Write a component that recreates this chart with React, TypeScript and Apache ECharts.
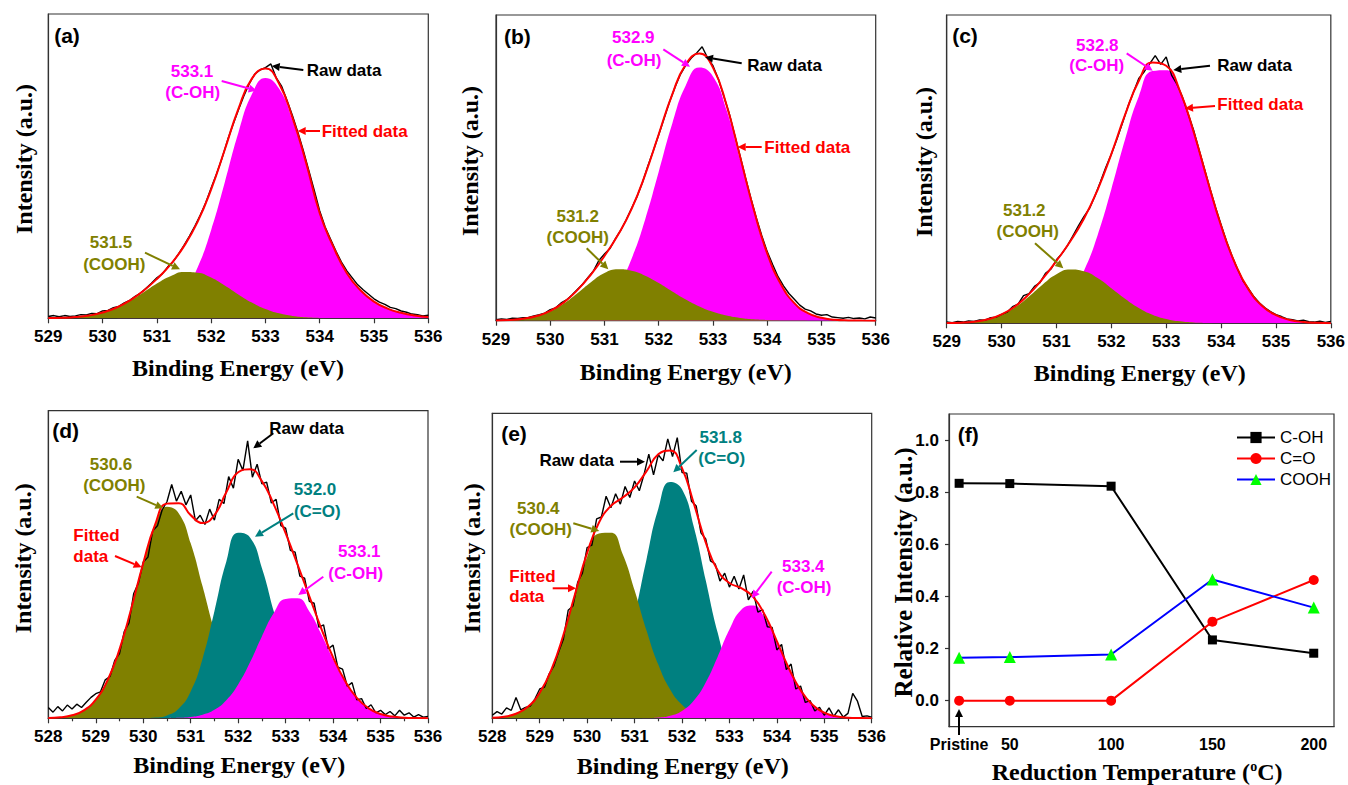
import React, { useEffect, useRef } from "react";
import * as echarts from "echarts";

// ---------- sampling grids ----------
const FIT_STEP = 0.25; // eV step of fitted component curves
const RAW_STEP = 0.1; // eV step of raw spectra

// ---------- panel (a) ----------
const aStart = 529;
const aCOOH = [0.06, 0.16, 0.41, 0.92, 1.87, 3.42, 5.66, 8.45, 11.4, 13.8, 15.2, 15.0, 13.4, 10.8, 7.86, 5.16, 3.06, 1.63, 0.79, 0.34, 0.13, 0.05, 0.02, 0, 0, 0, 0, 0, 0];
const aCOH = [0, 0, 0, 0, 0.01, 0.05, 0.17, 0.55, 1.54, 3.85, 8.51, 16.7, 29.0, 44.6, 60.9, 73.6, 79.0, 75.5, 65.0, 50.7, 34.4, 23.5, 14.8, 9.2, 5.5, 3.2, 1.8, 0.9, 0.4];
const aRaw = [
  0.6, 0.9, 0.5, 0.9, 0.6, 0.8, 1.2, 1.1, 1.6, 1.5,
  2.4, 2.6, 3.5, 3.9, 5.1, 5.9, 7.2, 8.3, 9.9, 11.5,
  13.3, 14.6, 16.9, 18.6, 21.2, 24.0, 27.0, 30.3, 33.9, 38.0,
  42.8, 47.5, 52.6, 58.4, 63.5, 68.4, 73.0, 77.0, 80.2, 81.6,
  82.4, 83.6, 79.0, 76.2, 71.5, 66.5, 61.0, 55.0, 48.5, 42.0,
  35.3, 30.0, 26.0, 22.0, 18.5, 15.6, 13.3, 11.0, 9.4, 7.9,
  6.4, 5.3, 4.6, 3.6, 3.2, 2.4, 2.0, 1.4, 1.2, 0.8,
  1.0,
];

// ---------- panel (b) ----------
const bStart = 529;
const bCOOH = [0.07, 0.23, 0.62, 1.48, 3.07, 5.62, 9.0, 12.6, 15.6, 16.8, 16.3, 14.7, 12.3, 9.55, 6.9, 4.63, 2.89, 1.67, 0.9, 0.45, 0.21, 0.09, 0.04, 0, 0, 0, 0, 0, 0];
const bCOH = [0, 0, 0.01, 0.04, 0.12, 0.37, 1.0, 2.5, 5.58, 11.3, 20.3, 33.1, 48.7, 64.5, 77.0, 82.8, 79.9, 68.9, 52.7, 36.0, 21.8, 11.9, 5.7, 2.45, 0.94, 0.32, 0.1, 0.03, 0.01];
const bRaw = [
  0.3, 0.6, 0.4, 0.8, 0.7, 1.0, 1.1, 1.6, 2.0, 2.5,
  3.6, 4.2, 5.8, 6.8, 8.4, 10.2, 12.0, 14.2, 16.4, 19.8,
  21.8, 23.6, 26.8, 29.6, 33.0, 36.8, 40.6, 45.2, 50.6, 55.6,
  60.8, 66.2, 71.6, 76.4, 80.6, 83.6, 85.9, 87.6, 89.6, 86.0,
  83.4, 79.0, 73.4, 67.8, 60.8, 53.9, 46.8, 40.0, 33.6, 27.8,
  22.6, 18.4, 14.4, 11.4, 8.9, 7.0, 5.1, 3.8, 3.2, 2.2,
  1.8, 2.0, 1.2, 1.0, 0.8, 1.1, 0.7, 0.9, 0.6, 1.2,
  0.9,
];

// ---------- panel (c) ----------
const cStart = 529;
const cCOOH = [0.06, 0.18, 0.52, 1.29, 2.79, 5.28, 8.73, 12.6, 15.9, 17.45, 16.9, 14.7, 11.4, 7.98, 5.0, 2.81, 1.42, 0.64, 0.26, 0.1, 0.03, 0, 0, 0, 0, 0, 0, 0, 0];
const cCOH = [0, 0, 0.01, 0.02, 0.08, 0.26, 0.74, 1.9, 4.37, 9.07, 17.0, 28.6, 43.5, 59.6, 73.6, 81.8, 82.1, 74.7, 61.8, 46.4, 31.6, 19.6, 11.0, 5.63, 2.62, 1.1, 0.42, 0.15, 0.05];
const cRaw = [
  0.4, 0.2, 0.6, 0.4, 0.8, 0.6, 1.1, 1.0, 1.8, 2.0,
  2.9, 3.6, 5.4, 6.2, 9.0, 9.6, 12.0, 13.2, 16.2, 17.6,
  20.6, 22.6, 25.2, 28.4, 31.6, 34.6, 37.2, 41.2, 45.8, 50.6,
  54.8, 59.6, 64.8, 70.2, 74.8, 79.4, 81.6, 84.2, 86.8, 84.0,
  86.4, 80.4, 77.4, 73.2, 68.0, 62.6, 56.2, 50.0, 43.6, 37.6,
  32.0, 26.6, 21.8, 17.6, 13.8, 11.2, 8.6, 6.6, 5.0, 3.8,
  2.8, 2.2, 1.4, 1.2, 0.8, 1.0, 0.5, 0.4, 0.7, 0.3,
  0.6,
];

// ---------- panel (d) ----------
const dStart = 528;
const dCOOH = [0.1, 0.33, 0.99, 2.6, 6.07, 12.4, 22.4, 35.8, 50.4, 62.7, 68.8, 66.6, 56.9, 42.9, 28.5, 16.7, 8.67, 3.97, 1.6, 0.57, 0.18, 0.05, 0.01, 0, 0, 0, 0, 0, 0, 0, 0, 0, 0];
const dCO = [0, 0, 0, 0, 0, 0, 0, 0, 0.03, 0.23, 0.95, 3.2, 8.73, 19.4, 34.8, 50.9, 60.3, 58.8, 48.9, 34.8, 21.2, 11.0, 4.91, 1.87, 0.61, 0.17, 0.04, 0, 0, 0, 0, 0, 0];
const dCOH = [0, 0, 0, 0, 0, 0, 0, 0, 0, 0.01, 0.04, 0.14, 0.42, 1.16, 2.77, 5.89, 11.0, 18.2, 26.6, 34.2, 38.8, 39.0, 34.7, 27.4, 19.2, 12.0, 6.62, 3.24, 1.41, 0.55, 0.19, 0.06, 0.02];
const dRaw = [
  3.5, 2.0, 3.8, 2.4, 4.3, 3.0, 4.6, 3.5, 5.2, 6.8,
  8.0, 8.6, 12.5, 13.6, 18.8, 21.0, 28.2, 31.0, 40.6, 44.0,
  50.8, 52.4, 61.0, 62.6, 67.8, 70.4, 76.0, 70.6, 73.8, 69.4,
  72.6, 64.2, 66.0, 63.0, 68.0, 64.4, 71.2, 69.8, 78.6, 74.8,
  84.2, 80.6, 90.2, 78.4, 82.6, 76.2, 76.8, 70.0, 71.2, 62.6,
  61.8, 54.6, 54.0, 46.2, 45.6, 38.0, 37.4, 29.6, 30.4, 22.6,
  23.8, 16.6, 16.0, 10.4, 11.6, 6.0, 6.4, 3.2, 4.4, 1.8,
  2.6, 1.2, 2.2, 0.8, 2.6, 1.0, 1.8, 0.4, 1.2, 0.4,
  0.6,
];

// ---------- panel (e) ----------
const eStart = 528;
const eCOOH = [0.16, 0.52, 1.5, 3.76, 8.35, 16.1, 27.3, 40.6, 53.0, 60.6, 60.8, 53.8, 42.0, 28.9, 17.6, 9.44, 4.47, 1.87, 0.69, 0.22, 0.07, 0.02, 0, 0, 0, 0, 0, 0, 0, 0, 0, 0, 0];
const eCO = [0, 0, 0, 0, 0, 0.02, 0.1, 0.37, 1.24, 3.58, 8.84, 18.6, 33.7, 52.0, 68.7, 77.5, 75.1, 62.7, 45.3, 28.2, 15.2, 7.04, 2.82, 0.98, 0.29, 0.08, 0.02, 0, 0, 0, 0, 0, 0];
const eCOH = [0, 0, 0, 0, 0, 0, 0, 0, 0, 0, 0, 0, 0.01, 0.07, 0.26, 0.87, 2.43, 5.81, 11.7, 20.1, 29.1, 35.6, 37.0, 32.8, 25.0, 16.4, 9.21, 4.44, 1.84, 0.65, 0.2, 0.06, 0.02];
const eRaw = [
  1.0, 2.2, 1.4, 3.4, 2.6, 6.8, 2.8, 3.6, 4.0, 6.4,
  9.6, 10.2, 14.6, 17.2, 21.8, 26.0, 35.4, 36.8, 44.6, 47.6,
  56.0, 56.8, 65.4, 66.0, 72.8, 69.0, 73.6, 70.2, 76.0, 72.4,
  77.8, 74.6, 80.0, 86.6, 79.8, 86.4, 84.4, 91.6, 85.8, 92.0,
  80.6, 80.4, 71.2, 69.6, 60.8, 58.8, 51.6, 50.6, 45.0, 47.6,
  43.0, 46.6, 42.4, 47.0, 38.8, 41.6, 34.8, 35.6, 30.0, 29.8,
  22.4, 24.2, 16.0, 17.8, 9.6, 10.6, 5.2, 5.8, 2.4, 3.6,
  1.0, 3.4, 0.6, 2.8, 0.4, 1.6, 8.2, 5.6, 0.6, 0.8,
  0.4,
];

// ---------- panel (f) ----------
const fTemps = [25, 50, 100, 150, 200];
const fTickLabels = ["Pristine", "50", "100", "150", "200"];
const fCOH = [0.834, 0.833, 0.823, 0.233, 0.182];
const fCO = [0, 0, 0, 0.303, 0.463];
const fCOOH = [0.165, 0.167, 0.177, 0.465, 0.357];
const fYTicks = [0, 0.2, 0.4, 0.6, 0.8, 1.0];

// ---------- styling ----------
const MAGENTA = "#ff00ff";
const OLIVE = "#808000";
const TEAL = "#008080";
const RED = "#ff0000";
const FRAME = "#333333";
const SANS = '"Liberation Sans", Arial, sans-serif';
const SERIF = '"Liberation Serif", "Times New Roman", serif';

const pairs = (start: number, step: number, vals: number[]) =>
  vals.map((v, i) => [Number((start + i * step).toFixed(3)), v]);
const sumArrays = (...arrs: number[][]) =>
  arrs[0].map((_, i) => arrs.reduce((s, a) => s + a[i], 0));

type Comp = { vals: number[]; color: string };
type Panel = {
  grid: { left: number; top: number; width: number; height: number };
  xmin: number;
  xmax: number;
  start: number;
  comps: Comp[]; // in drawing order (first = bottom)
  raw: number[];
  minor: boolean;
};

const panels: Panel[] = [
  { grid: { left: 48.3, top: 14, width: 380, height: 304.3 }, xmin: 529, xmax: 536, start: aStart, comps: [{ vals: aCOH, color: MAGENTA }, { vals: aCOOH, color: OLIVE }], raw: aRaw, minor: false },
  { grid: { left: 496, top: 15, width: 379.7, height: 305.7 }, xmin: 529, xmax: 536, start: bStart, comps: [{ vals: bCOH, color: MAGENTA }, { vals: bCOOH, color: OLIVE }], raw: bRaw, minor: false },
  { grid: { left: 946.7, top: 15, width: 385, height: 308.3 }, xmin: 529, xmax: 536, start: cStart, comps: [{ vals: cCOH, color: MAGENTA }, { vals: cCOOH, color: OLIVE }], raw: cRaw, minor: false },
  { grid: { left: 48.3, top: 410.7, width: 379.7, height: 307.6 }, xmin: 528, xmax: 536, start: dStart, comps: [{ vals: dCOOH, color: OLIVE }, { vals: dCO, color: TEAL }, { vals: dCOH, color: MAGENTA }], raw: dRaw, minor: true },
  { grid: { left: 492.3, top: 413.3, width: 379.4, height: 305 }, xmin: 528, xmax: 536, start: eStart, comps: [{ vals: eCO, color: TEAL }, { vals: eCOOH, color: OLIVE }, { vals: eCOH, color: MAGENTA }], raw: eRaw, minor: true },
];
const fGrid = { left: 949, top: 414, width: 385, height: 312.7 };

const tickLabelStyle = { fontFamily: SANS, fontWeight: "bold" as const, fontSize: 17, color: "#000" };

function arrow(x1: number, y1: number, x2: number, y2: number, color: string) {
  const dx = x2 - x1, dy = y2 - y1;
  const len = Math.hypot(dx, dy) || 1;
  const ux = dx / len, uy = dy / len;
  const hl = 8, hw = 4;
  const bx = x2 - ux * hl, by = y2 - uy * hl;
  return [
    { type: "line", z: 100, silent: true, shape: { x1, y1, x2: bx, y2: by }, style: { stroke: color, lineWidth: 2 } },
    { type: "polygon", z: 100, silent: true, shape: { points: [[x2, y2], [bx - uy * hw, by + ux * hw], [bx + uy * hw, by - ux * hw]] }, style: { fill: color } },
  ];
}

function label(text: string, x: number, y: number, color: string, align = "center", size = 17) {
  return { type: "text", z: 100, silent: true, x, y, style: { text, fill: color, font: `bold ${size}px ${SANS}`, align, verticalAlign: "middle" } };
}

function title(text: string, x: number, y: number, rotate = false, size = 24) {
  return { type: "text", z: 100, silent: true, x, y, rotation: rotate ? Math.PI / 2 : 0, style: { text, fill: "#000", font: `bold ${size}px ${SERIF}`, align: "center", verticalAlign: "middle" } };
}

function buildOption() {
  const grids: any[] = [];
  const xAxes: any[] = [];
  const yAxes: any[] = [];
  const series: any[] = [];

  panels.forEach((p, i) => {
    grids.push({ ...p.grid, show: true, borderColor: FRAME, borderWidth: 1.2, containLabel: false });
    xAxes.push({
      type: "value", gridIndex: i, min: p.xmin, max: p.xmax, interval: 1,
      axisLine: { show: true, onZero: false, lineStyle: { color: FRAME, width: 1.2 } },
      axisTick: { show: true, inside: false, length: 5, lineStyle: { color: FRAME, width: 1.2 } },
      minorTick: { show: p.minor, splitNumber: 2, length: 3, lineStyle: { color: FRAME, width: 1.2 } },
      axisLabel: { ...tickLabelStyle, margin: 10, hideOverlap: false },
      splitLine: { show: false },
    });
    yAxes.push({
      type: "value", gridIndex: i, min: 0, max: 100,
      axisLine: { show: true, lineStyle: { color: FRAME, width: 1.2 } },
      axisTick: { show: false }, axisLabel: { show: false }, splitLine: { show: false },
    });
    p.comps.forEach((c, k) => {
      series.push({
        type: "line", xAxisIndex: i, yAxisIndex: i, z: 2 + k, silent: true,
        data: pairs(p.start, FIT_STEP, c.vals), smooth: 0.5, symbol: "none",
        lineStyle: { width: 0, color: c.color }, areaStyle: { color: c.color, opacity: 1 },
      });
    });
    series.push({
      type: "line", xAxisIndex: i, yAxisIndex: i, z: 6, silent: true,
      data: pairs(p.start, RAW_STEP, p.raw), symbol: "none",
      lineStyle: { width: 1.4, color: "#000" },
    });
    series.push({
      type: "line", xAxisIndex: i, yAxisIndex: i, z: 7, silent: true,
      data: pairs(p.start, FIT_STEP, sumArrays(...p.comps.map((c) => c.vals))), smooth: 0.5, symbol: "none",
      lineStyle: { width: 2, color: RED },
    });
  });

  // panel (f)
  grids.push({ ...fGrid, show: true, borderColor: FRAME, borderWidth: 1.2 });
  xAxes.push({
    type: "value", gridIndex: 5, min: 20, max: 210,
    axisLine: { show: true, onZero: false, lineStyle: { color: FRAME, width: 1.2 } },
    axisTick: { show: false },
    axisLabel: {
      ...tickLabelStyle, fontSize: 16, margin: 10, customValues: fTemps,
      formatter: (v: number) => fTickLabels[fTemps.indexOf(v)] ?? String(v),
    },
    splitLine: { show: false },
  });
  yAxes.push({
    type: "value", gridIndex: 5, min: -0.1, max: 1.1,
    axisLine: { show: true, onZero: false, lineStyle: { color: FRAME, width: 1.2 } },
    axisTick: { show: true, inside: false, length: 4, customValues: fYTicks, lineStyle: { color: FRAME, width: 1.2 } },
    axisLabel: { ...tickLabelStyle, margin: 10, customValues: fYTicks, formatter: (v: number) => v.toFixed(1) },
    splitLine: { show: false },
  });
  const fSeries = [
    { name: "C-OH", vals: fCOH, symbol: "rect", size: 9, mark: "#000000", line: "#000000" },
    { name: "C=O", vals: fCO, symbol: "circle", size: 10, mark: RED, line: RED },
    { name: "COOH", vals: fCOOH, symbol: "triangle", size: 12, mark: "#00ff00", line: "#0000ff" },
  ];
  fSeries.forEach((s, k) => {
    series.push({
      name: s.name, type: "line", xAxisIndex: 5, yAxisIndex: 5, z: 3 + k,
      data: fTemps.map((t, i) => [t, s.vals[i]]),
      symbol: s.symbol, symbolSize: s.size, showSymbol: true,
      itemStyle: { color: s.mark }, lineStyle: { color: s.line, width: 2 },
    });
  });

  const graphics: any[] = [
    // panel letters
    label("(a)", 67, 35, "#000", "center", 21),
    label("(b)", 517.3, 36.7, "#000", "center", 21),
    label("(c)", 965, 35, "#000", "center", 21),
    label("(d)", 65.7, 430, "#000", "center", 21),
    label("(e)", 514, 433.3, "#000", "center", 21),
    label("(f)", 968.3, 434.3, "#000", "center", 21),

    // axis titles
    title("Intensity (a.u.)", 24, 159, true),
    title("Binding Energy (eV)", 238, 368.3),
    title("Intensity (a.u.)", 470.3, 161, true),
    title("Binding Energy (eV)", 685.8, 371.7),
    title("Intensity (a.u.)", 924, 162, true),
    title("Binding Energy (eV)", 1139.7, 373.3),
    title("Intensity (a.u.)", 23.3, 558.3, true),
    title("Binding Energy (eV)", 239.2, 765),
    title("Intensity (a.u.)", 471.7, 558.3, true),
    title("Binding Energy (eV)", 682.8, 765.7),
    title("Relative Intensity (a.u.)", 903.3, 572.5, true, 25),
    {
      type: "text", z: 100, silent: true, x: 1137, y: 771.7,
      style: {
        text: "Reduction Temperature ({sup|o}C)", fill: "#000", font: `bold 24px ${SERIF}`,
        align: "center", verticalAlign: "middle",
        rich: { sup: { font: `bold 14px ${SERIF}`, fill: "#000", verticalAlign: "top", lineHeight: 12 } },
      },
    },

    // panel (a)
    label("533.1", 192, 71.7, MAGENTA), label("(C-OH)", 192.7, 92.7, MAGENTA),
    ...arrow(221.7, 81, 256.7, 90.7, MAGENTA),
    label("Raw data", 306.7, 70.7, "#000", "left"),
    ...arrow(303.3, 70, 271.7, 66, "#000"),
    label("Fitted data", 321.7, 131, RED, "left"),
    ...arrow(320, 131, 297.7, 131, RED),
    label("531.5", 111, 242.3, OLIVE), label("(COOH)", 114.3, 264, OLIVE),
    ...arrow(145, 252.7, 180, 269.3, OLIVE),

    // panel (b)
    label("532.9", 633.3, 37.7, MAGENTA), label("(C-OH)", 634, 60, MAGENTA),
    ...arrow(663.3, 49.3, 690, 66.7, MAGENTA),
    label("Raw data", 747.3, 65, "#000", "left"),
    ...arrow(741.7, 63.3, 705, 57.3, "#000"),
    label("Fitted data", 764.3, 147.3, RED, "left"),
    ...arrow(761.7, 147, 737.7, 147, RED),
    label("531.2", 577.7, 216.7, OLIVE), label("(COOH)", 577.7, 237.7, OLIVE),
    ...arrow(586.7, 248.3, 608.3, 269.3, OLIVE),

    // panel (c)
    label("532.8", 1097.3, 45, MAGENTA), label("(C-OH)", 1096.7, 65.7, MAGENTA),
    ...arrow(1126.7, 53.3, 1152.7, 70.7, MAGENTA),
    label("Raw data", 1217.3, 65.7, "#000", "left"),
    ...arrow(1210, 65.7, 1173.3, 70, "#000"),
    label("Fitted data", 1217.3, 104.3, RED, "left"),
    ...arrow(1215, 106, 1185, 108.3, RED),
    label("531.2", 1024.3, 210, OLIVE), label("(COOH)", 1027.7, 231.3, OLIVE),
    ...arrow(1035, 243.3, 1063.3, 268.3, OLIVE),

    // panel (d)
    label("Raw data", 269.3, 428.3, "#000", "left"),
    ...arrow(273.3, 433.3, 253.3, 448.3, "#000"),
    label("530.6", 111, 464, OLIVE), label("(COOH)", 114.3, 485.7, OLIVE),
    ...arrow(136.7, 496.7, 163.3, 508.3, OLIVE),
    label("Fitted", 73.3, 535, RED, "left"), label("data", 73.3, 556.7, RED, "left"),
    ...arrow(115, 556, 141.7, 567.3, RED),
    label("532.0", 315, 489.3, TEAL), label("(C=O)", 317.3, 511, TEAL),
    ...arrow(293.3, 513.3, 255, 536.7, TEAL),
    label("533.1", 359.3, 551.7, MAGENTA), label("(C-OH)", 355.7, 573.3, MAGENTA),
    ...arrow(323.3, 576.7, 298.3, 595, MAGENTA),

    // panel (e)
    label("Raw data", 576.7, 460, "#000"),
    ...arrow(620, 461.7, 645, 461.7, "#000"),
    label("531.8", 720.7, 437.7, TEAL), label("(C=O)", 721.7, 458.3, TEAL),
    ...arrow(696.7, 450, 673.3, 472.3, TEAL),
    label("530.4", 538.3, 508.3, OLIVE), label("(COOH)", 540.7, 529.3, OLIVE),
    ...arrow(573.3, 523.3, 599.3, 531, OLIVE),
    label("Fitted", 509.3, 576, RED, "left"), label("data", 509.3, 596.7, RED, "left"),
    ...arrow(552.7, 588.3, 576, 588.3, RED),
    label("533.4", 803.3, 566, MAGENTA), label("(C-OH)", 804, 587.7, MAGENTA),
    ...arrow(771.7, 571.7, 751.7, 598.3, MAGENTA),

    // panel (f) pristine arrow
    ...arrow(959, 735, 959, 709, "#000"),
  ];

  return {
    animation: false,
    backgroundColor: "#ffffff",
    grid: grids,
    xAxis: xAxes,
    yAxis: yAxes,
    legend: {
      data: fSeries.map((s) => s.name),
      orient: "vertical",
      left: 1231,
      top: 424,
      itemWidth: 38,
      itemHeight: 14,
      itemGap: 4,
      selectedMode: false,
      textStyle: { fontFamily: SANS, fontSize: 17, color: "#000", lineHeight: 17 },
    },
    series,
    graphic: { elements: graphics },
  };
}

export default function App() {
  const ref = useRef<HTMLDivElement>(null);
  useEffect(() => {
    if (!ref.current) return;
    const chart = echarts.init(ref.current, undefined, { renderer: "svg" });
    chart.setOption(buildOption() as any);
    return () => chart.dispose();
  }, []);
  return (
    <div
      ref={ref}
      style={{ position: "fixed", left: 0, top: 0, width: 1348, height: 785, background: "#fff" }}
    />
  );
}
